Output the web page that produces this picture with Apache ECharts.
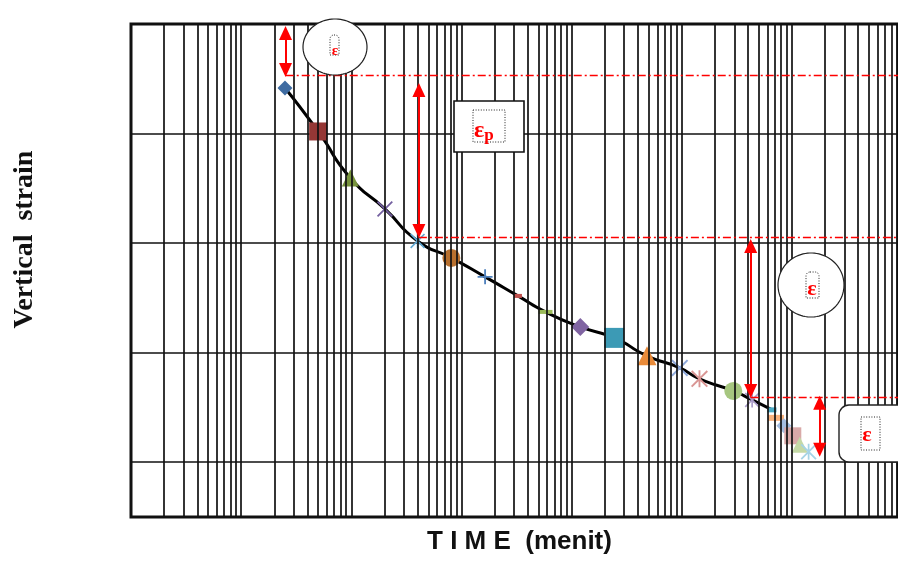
<!DOCTYPE html>
<html><head><meta charset="utf-8">
<script src="https://cdn.jsdelivr.net/npm/echarts@6/dist/echarts.min.js"></script>
<style>html,body{margin:0;padding:0;background:#fff;}#c{width:898px;height:585px;}</style>
</head><body><div id="c"></div>
<script>
// ---- data (time in minutes, vertical strain in arbitrary units, downward) ----
const times  = [0.25, 0.5, 0.98, 2.02, 4.0, 8.1, 16.4, 32.6, 58, 120, 244, 484, 960, 1450, 2940, 4360, 6600, 7180, 8470, 10200, 11800, 14200];
const strain = [0.584, 0.981, 1.405, 1.688, 1.980, 2.135, 2.308, 2.482, 2.628, 2.765, 2.865, 3.029, 3.139, 3.239, 3.349, 3.431, 3.522, 3.595, 3.668, 3.759, 3.841, 3.905];
const curveCount = 17;            // points joined by the fitted curve
// axis extents
const xMin = 0.01, xMax = 92000;
const yMin = 0, yMax = 4.5, yStep = 1;
// reference (dash-dot) levels and where they start
const refLevels = [0.470, 1.950, 3.408];
const refStarts = [0.254, 4.11, 4230];
// double arrows
const arrowX    = [0.253, 4.11, 4230, 17900];
const arrowFrom = [0.082, 0.602, 2.026, 3.458];
const arrowTo   = [0.420, 1.889, 3.349, 3.887];
// labels
const xTitle = 'T I M E  (menit)';
const yTitle = 'Vertical  strain';

// ---- styles ----
const X_PATH = 'path://M0,0.8L0.8,0L5,4.2L9.2,0L10,0.8L5.8,5L10,9.2L9.2,10L5,5.8L0.8,10L0,9.2L4.2,5Z';
const STAR_PATH = X_PATH + 'M4.45,0L5.55,0L5.55,10L4.45,10Z';
const PLUS_PATH = 'path://M4.4,0L5.6,0L5.6,4.4L10,4.4L10,5.6L5.6,5.6L5.6,10L4.4,10L4.4,5.6L0,5.6L0,4.4L4.4,4.4Z';
const markerStyles = [
  {symbol:'diamond', size:15, color:'#3E6BA1'},
  {symbol:'rect', size:18, color:'#953735'},
  {symbol:'triangle', size:17, color:'#77933C'},
  {symbol:X_PATH, size:16, color:'#7460A0'},
  {symbol:STAR_PATH, size:15, color:'#5FA8D3'},
  {symbol:'circle', size:18, color:'#B8702E'},
  {symbol:PLUS_PATH, size:15, color:'#4F81BD'},
  {symbol:'rect', size:[8,4], color:'#C0504D'},
  {symbol:'rect', size:[14,4], color:'#9BBB59'},
  {symbol:'diamond', size:18, color:'#8064A2'},
  {symbol:'rect', size:20, color:'#3C9AB5'},
  {symbol:'triangle', size:19, color:'#E98B3A'},
  {symbol:X_PATH, size:17, color:'#8EA9DB'},
  {symbol:STAR_PATH, size:17, color:'#D99694'},
  {symbol:'circle', size:18, color:'#A6C67F'},
  {symbol:STAR_PATH, size:15, color:'#A99BC9'},
  {symbol:'rect', size:[9,5], color:'#4BACC6'},
  {symbol:'rect', size:[16,6], color:'#FAB37E'},
  {symbol:'diamond', size:15, color:'#A4BDE0'},
  {symbol:'rect', size:17, color:'#D9A9A8'},
  {symbol:'triangle', size:16, color:'#C4D9A6'},
  {symbol:STAR_PATH, size:16, color:'#A5D3E6'}
];

// log-paper vertical grid values (1..9 x each decade)
const gridVals = [];
for (let d = Math.floor(Math.log10(xMin)); d <= Math.ceil(Math.log10(xMax)); d++) {
  for (let k = 1; k <= 9; k++) {
    const v = Number((k * Math.pow(10, d)).toPrecision(6));
    if (v > xMin * 1.0001 && v < xMax) gridVals.push(v);
  }
}

function ellipsePts(cx, cy, rx, ry) {
  const p = [];
  for (let i = 0; i < 90; i++) { const a = i / 90 * Math.PI * 2; p.push([cx + rx * Math.cos(a), cy + ry * Math.sin(a)]); }
  return p;
}
const RED = '#FF0000';
const dotted = {fill:'none', stroke:'#222', lineWidth:1, lineDash:[1,1.6]};

const series = [];
series.push({
  type:'line', data:[], silent:true, z:1,
  markLine:{silent:true, symbol:['none','none'], label:{show:false}, animation:false,
    lineStyle:{color:'#111', width:1.7, type:'solid'},
    emphasis:{disabled:true},
    data: gridVals.map(v => ({xAxis:v}))}
});
series.push({
  type:'line', smooth:0.6, showSymbol:false, silent:true, z:3,
  lineStyle:{color:'#000', width:3},
  data: times.slice(0, curveCount).map((t, i) => [t, strain[i]])
});
times.forEach((t, i) => {
  const s = markerStyles[i];
  series.push({type:'scatter', z:4, silent:true, symbol:s.symbol, symbolSize:s.size,
    itemStyle:{color:s.color, opacity:1}, data:[[t, strain[i]]]});
});
series.push({
  type:'line', data:[], silent:true, z:5,
  markLine:{silent:true, symbol:['none','none'], label:{show:false}, animation:false,
    lineStyle:{color:RED, width:1.3, type:[8,3,2,3]}, emphasis:{disabled:true},
    data: refLevels.map((y, i) => [{coord:[refStarts[i], y]}, {coord:[xMax, y]}])}
});
series.push({
  type:'line', data:[], silent:true, z:6,
  markLine:{silent:true, symbol:['triangle','triangle'], symbolSize:[13,14], label:{show:false}, animation:false,
    lineStyle:{color:RED, width:2, type:'solid'}, itemStyle:{color:RED}, emphasis:{disabled:true},
    data: arrowX.map((x, i) => [{coord:[x, arrowFrom[i]]}, {coord:[x, arrowTo[i]]}])}
});

const graphic = [
  {type:'polygon', shape:{points:ellipsePts(335,47,32,28)}, style:{fill:'#fff', stroke:'#222', lineWidth:1.2}, z:100},
  {type:'rect', shape:{x:330,y:35,width:9,height:20,r:[4,4,0,0]}, style:dotted, z:101},
  {type:'text', x:335, y:51, style:{text:'ε', fill:RED, font:'bold 15px "Liberation Serif"', align:'center', verticalAlign:'middle'}, z:102},

  {type:'rect', shape:{x:454,y:101,width:70,height:51}, style:{fill:'#fff', stroke:'#111', lineWidth:1.6}, z:100},
  {type:'rect', shape:{x:473,y:110,width:32,height:32}, style:dotted, z:101},
  {type:'text', x:474, y:131, style:{rich:{e:{fontSize:24, fontWeight:'bold', fontFamily:'Liberation Serif', fill:RED}, p:{fontSize:17, fontWeight:'bold', fontFamily:'Liberation Serif', fill:RED, padding:[10,0,0,0]}}, text:'{e|ε}{p|p}', verticalAlign:'middle'}, z:102},

  {type:'polygon', shape:{points:ellipsePts(811,285,33,32)}, style:{fill:'#fff', stroke:'#222', lineWidth:1.2}, z:100},
  {type:'rect', shape:{x:806,y:272,width:13,height:26,r:[4,4,0,0]}, style:dotted, z:101},
  {type:'text', x:812, y:289, style:{text:'ε', fill:RED, font:'bold 22px "Liberation Serif"', align:'center', verticalAlign:'middle'}, z:102},

  {type:'rect', shape:{x:839,y:405,width:75,height:57,r:10}, style:{fill:'#fff', stroke:'#222', lineWidth:1.4}, z:100},
  {type:'rect', shape:{x:861,y:417,width:19,height:33}, style:dotted, z:101},
  {type:'text', x:867, y:435, style:{text:'ε', fill:RED, font:'bold 22px "Liberation Serif"', align:'center', verticalAlign:'middle'}, z:102}
];

const chart = echarts.init(document.getElementById('c'), null, {renderer:'canvas'});
chart.setOption({
  animation:false,
  backgroundColor:'#fff',
  grid:{left:131, top:24, right:-6, bottom:68, show:true, borderColor:'#111', borderWidth:3, backgroundColor:'transparent', containLabel:false},
  xAxis:{type:'log', logBase:10, min:xMin, max:xMax,
    axisLine:{show:false}, axisTick:{show:false}, axisLabel:{show:false}, splitLine:{show:false}, minorTick:{show:false},
    name:xTitle, nameLocation:'middle', nameGap:12,
    nameTextStyle:{fontFamily:'Liberation Sans', fontWeight:'bold', fontSize:26, color:'#111', verticalAlign:'top', padding:[0,0,0,10]}},
  yAxis:{type:'value', inverse:true, min:yMin, max:yMax, interval:yStep,
    axisLine:{show:false}, axisTick:{show:false}, axisLabel:{show:false},
    splitLine:{show:true, lineStyle:{color:'#111', width:1.6}},
    name:yTitle, nameLocation:'middle', nameGap:92, nameRotate:90,
    nameTextStyle:{fontFamily:'Liberation Serif', fontWeight:'bold', fontSize:28, color:'#111', padding:[0,0,0,62]}},
  series:series,
  graphic:graphic
});
</script></body></html>
